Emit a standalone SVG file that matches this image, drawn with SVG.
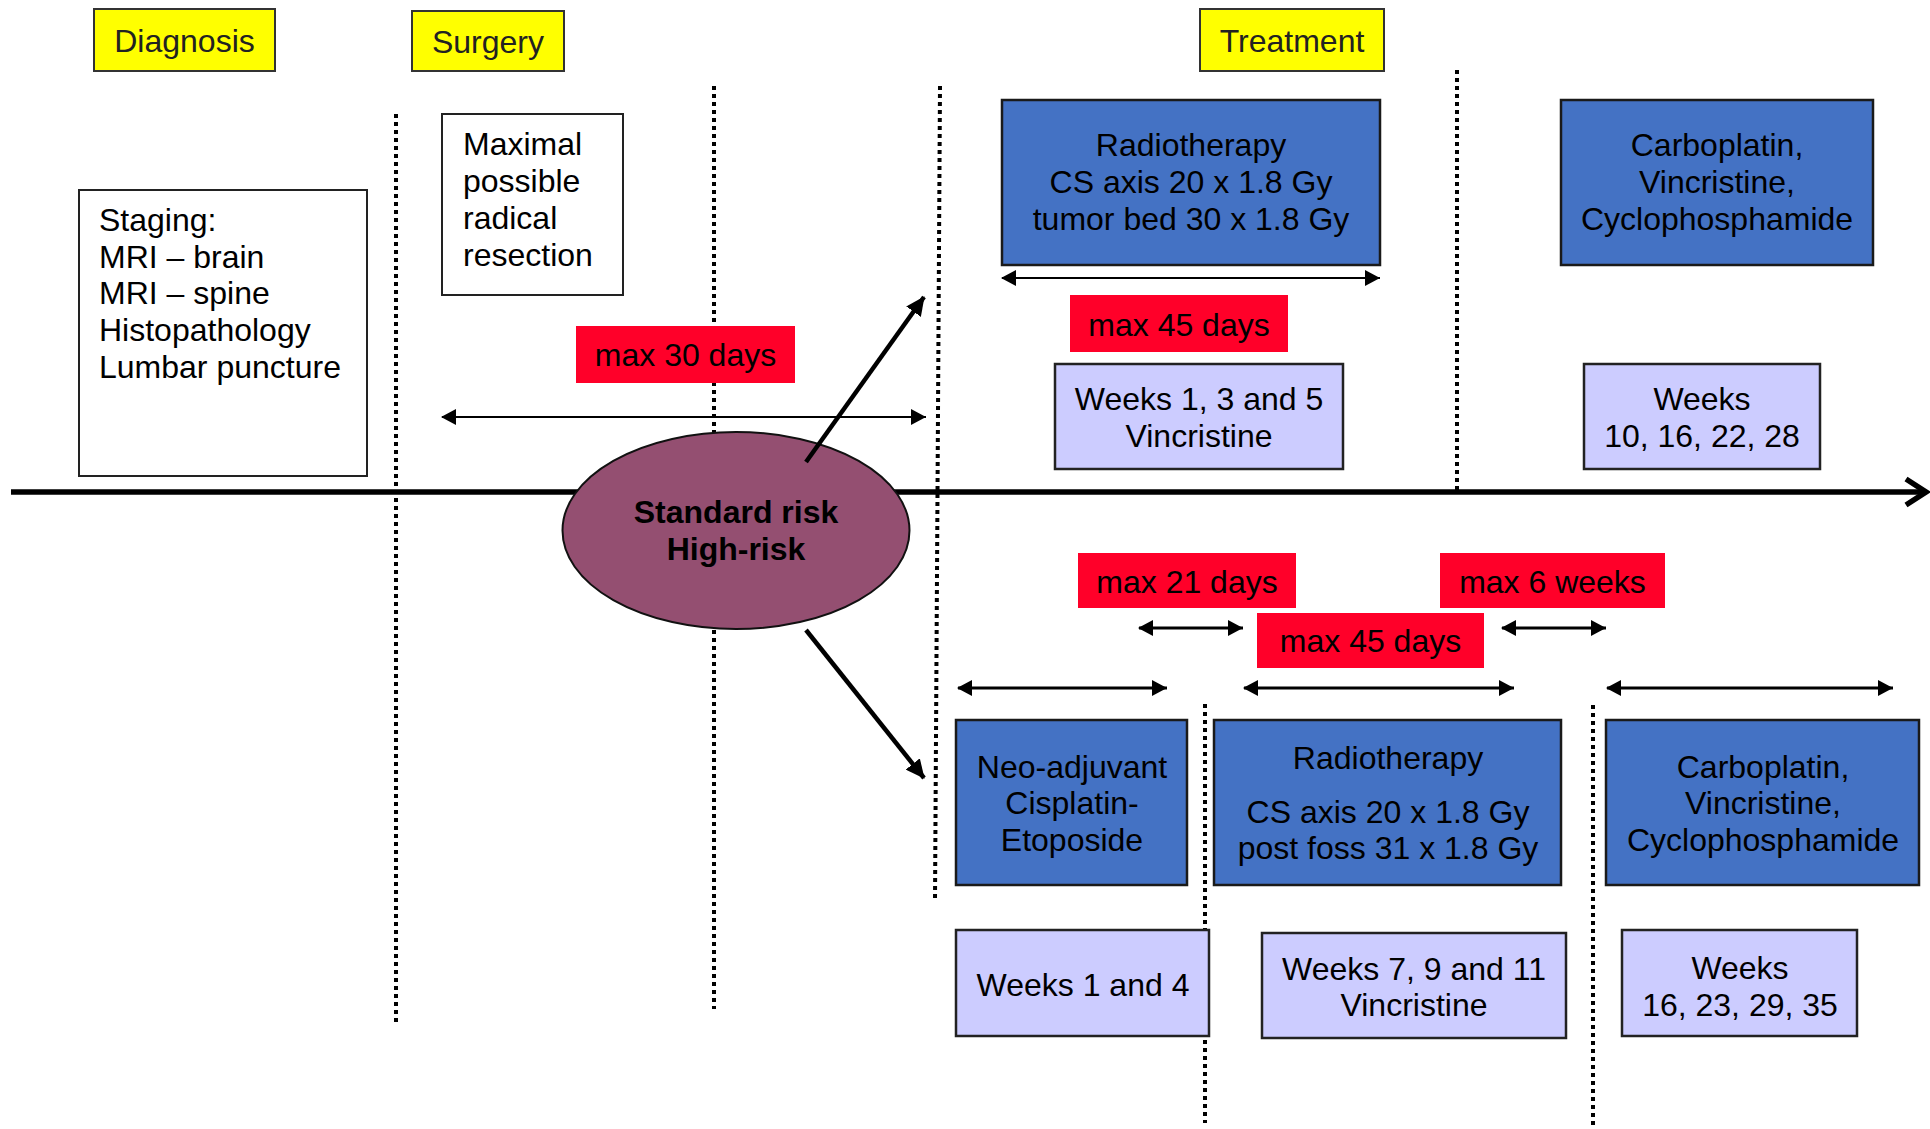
<svg xmlns="http://www.w3.org/2000/svg" width="1930" height="1129" viewBox="0 0 1930 1129">
<defs>
<style>
text{font-family:"Liberation Sans",Arial,sans-serif;font-size:32px;fill:#000}
.c{text-anchor:middle}
.b{font-weight:bold}
.yel{fill:#FFFF00;stroke:#333;stroke-width:2}
.ytx{fill:#222}
.wht{fill:#fff;stroke:#222;stroke-width:2}
.blu{fill:#4472C4;stroke:#1a1a1a;stroke-width:2.5}
.lil{fill:#CCCCFF;stroke:#222;stroke-width:2.5}
.red{fill:#FF0029}
.dot{stroke:#000;stroke-width:4;stroke-dasharray:4 4;fill:none}
.dbl{stroke:#000;stroke-width:2;fill:none;marker-start:url(#hs);marker-end:url(#he)}
.dbl3{stroke:#000;stroke-width:3;fill:none;marker-start:url(#hs);marker-end:url(#he)}
.thk{stroke:#000;stroke-width:4.5;fill:none;marker-end:url(#big)}
</style>
<marker id="he" markerUnits="userSpaceOnUse" markerWidth="16" markerHeight="16" refX="15" refY="8" orient="auto"><path d="M0,0 L15,8 L0,16 z" fill="#000"/></marker>
<marker id="hs" markerUnits="userSpaceOnUse" markerWidth="16" markerHeight="16" refX="1" refY="8" orient="auto"><path d="M15,0 L0,8 L15,16 z" fill="#000"/></marker>
<marker id="big" markerUnits="userSpaceOnUse" markerWidth="20" markerHeight="18" refX="18" refY="9" orient="auto"><path d="M0,0 L19,9 L0,18 z" fill="#000"/></marker>
</defs>
<rect width="1930" height="1129" fill="#fff"/>

<g id="guides">
<line class="dot" x1="396" y1="114" x2="396" y2="1022"/>
<line class="dot" x1="714" y1="86" x2="714" y2="1009"/>
<line class="dot" x1="940" y1="86" x2="935" y2="900"/>
<line class="dot" x1="1457" y1="70" x2="1457" y2="490"/>
<line class="dot" x1="1205" y1="704" x2="1205" y2="1123"/>
<line class="dot" x1="1593" y1="705" x2="1593" y2="1125"/>
</g>

<g id="timeline">
<line x1="11" y1="492" x2="1925" y2="492" stroke="#000" stroke-width="5.5"/>
<polyline points="1906,479 1926,492 1906,505" fill="none" stroke="#000" stroke-width="5.5"/>
</g>

<g id="diagnosis"><rect class="yel" x="94" y="9" width="181" height="62"/><text class="c ytx" x="184.5" y="52">Diagnosis</text></g>
<g id="surgery"><rect class="yel" x="412" y="11" width="152" height="60"/><text class="c ytx" x="488" y="53">Surgery</text></g>
<g id="treatment"><rect class="yel" x="1200" y="9" width="184" height="62"/><text class="c ytx" x="1292" y="52">Treatment</text></g>

<g id="staging"><rect class="wht" x="79" y="190" width="288" height="286"/>
<text x="99"><tspan x="99" y="231">Staging:</tspan><tspan x="99" y="268">MRI – brain</tspan><tspan x="99" y="304">MRI – spine</tspan><tspan x="99" y="341">Histopathology</tspan><tspan x="99" y="378">Lumbar puncture</tspan></text></g>

<g id="resection"><rect class="wht" x="442" y="114" width="181" height="181"/>
<text x="463"><tspan x="463" y="155">Maximal</tspan><tspan x="463" y="192">possible</tspan><tspan x="463" y="229">radical</tspan><tspan x="463" y="266">resection</tspan></text></g>

<g id="max30"><rect class="red" x="576" y="326" width="219" height="57"/><text class="c" x="685.5" y="366">max 30 days</text></g>

<g id="connectors">
<line class="dbl" x1="442" y1="417" x2="926" y2="417"/>
<line class="dbl" x1="1002" y1="278" x2="1380" y2="278"/>
<line class="dbl3" x1="1139" y1="628" x2="1243" y2="628"/>
<line class="dbl3" x1="1502" y1="628" x2="1606" y2="628"/>
<line class="dbl3" x1="958" y1="688" x2="1167" y2="688"/>
<line class="dbl3" x1="1244" y1="688" x2="1514" y2="688"/>
<line class="dbl3" x1="1607" y1="688" x2="1893" y2="688"/>
</g>

<g id="risk"><ellipse cx="736" cy="530.5" rx="173.5" ry="98.5" fill="#944F71" stroke="#111" stroke-width="2"/>
<text class="c b" x="736" y="523">Standard risk</text><text class="c b" x="736" y="560">High-risk</text></g>

<g id="branches">
<line class="thk" x1="806" y1="462" x2="924" y2="297"/>
<line class="thk" x1="806" y1="630" x2="924" y2="778"/>
</g>

<g id="rt-std"><rect class="blu" x="1002" y="100" width="378" height="165"/>
<text class="c"><tspan x="1191" y="156">Radiotherapy</tspan><tspan x="1191" y="193">CS axis 20 x 1.8 Gy</tspan><tspan x="1191" y="230">tumor bed 30 x 1.8 Gy</tspan></text></g>

<g id="max45a"><rect class="red" x="1070" y="295" width="218" height="57"/><text class="c" x="1179" y="336">max 45 days</text></g>

<g id="vcr-std"><rect class="lil" x="1055" y="364" width="288" height="105"/>
<text class="c"><tspan x="1199" y="410">Weeks 1, 3 and 5</tspan><tspan x="1199" y="447">Vincristine</tspan></text></g>

<g id="chemo-std"><rect class="blu" x="1561" y="100" width="312" height="165"/>
<text class="c"><tspan x="1717" y="156">Carboplatin,</tspan><tspan x="1717" y="193">Vincristine,</tspan><tspan x="1717" y="230">Cyclophosphamide</tspan></text></g>

<g id="weeks-std"><rect class="lil" x="1584" y="364" width="236" height="105"/>
<text class="c"><tspan x="1702" y="410">Weeks</tspan><tspan x="1702" y="447">10, 16, 22, 28</tspan></text></g>

<g id="max21"><rect class="red" x="1078" y="553" width="218" height="55"/><text class="c" x="1187" y="593">max 21 days</text></g>
<g id="max6w"><rect class="red" x="1440" y="553" width="225" height="55"/><text class="c" x="1552.5" y="593">max 6 weeks</text></g>
<g id="max45b"><rect class="red" x="1257" y="613" width="227" height="55"/><text class="c" x="1370.5" y="652">max 45 days</text></g>

<g id="neo"><rect class="blu" x="956" y="720" width="231" height="165"/>
<text class="c"><tspan x="1072" y="778">Neo-adjuvant</tspan><tspan x="1072" y="814">Cisplatin-</tspan><tspan x="1072" y="851">Etoposide</tspan></text></g>

<g id="rt-high"><rect class="blu" x="1214" y="720" width="347" height="165"/>
<text class="c"><tspan x="1388" y="769">Radiotherapy</tspan><tspan x="1388" y="823">CS axis 20 x 1.8 Gy</tspan><tspan x="1388" y="859">post foss 31 x 1.8 Gy</tspan></text></g>

<g id="chemo-high"><rect class="blu" x="1606" y="720" width="313" height="165"/>
<text class="c"><tspan x="1763" y="778">Carboplatin,</tspan><tspan x="1763" y="814">Vincristine,</tspan><tspan x="1763" y="851">Cyclophosphamide</tspan></text></g>

<g id="weeks14"><rect class="lil" x="956" y="930" width="253" height="106"/><text class="c" x="1083" y="996">Weeks 1 and 4</text></g>

<g id="vcr-high"><rect class="lil" x="1262" y="933" width="304" height="105"/>
<text class="c"><tspan x="1414" y="980">Weeks 7, 9 and 11</tspan><tspan x="1414" y="1016">Vincristine</tspan></text></g>

<g id="weeks-high"><rect class="lil" x="1622" y="930" width="235" height="106"/>
<text class="c"><tspan x="1740" y="979">Weeks</tspan><tspan x="1740" y="1016">16, 23, 29, 35</tspan></text></g>
</svg>
